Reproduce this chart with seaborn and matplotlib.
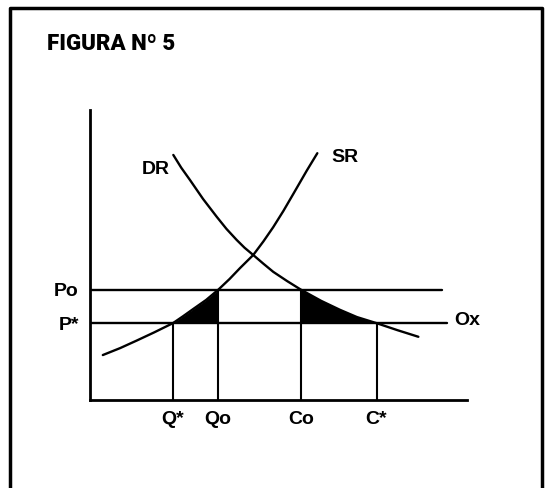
import matplotlib
matplotlib.use("Agg")
import matplotlib.pyplot as plt
import seaborn as sns
import pandas as pd
import numpy as np

# price levels and quantities (axes run 0..100)
p_o = 38.0
p_star = 26.5
q_star, q_o, c_o, c_star = 22.0, 34.0, 56.0, 76.0

# supply curve SR
sr_x = [3.4, 8.0, 12.4, 17.0, 22.0, 24.7, 27.4, 30.8, 34.0, 37.0, 39.8, 43.3,
        46.0, 48.6, 51.3, 53.9, 57.5, 60.3]
sr_y = [15.5, 17.9, 20.5, 23.3, 26.5, 28.9, 31.4, 34.5, 38.0, 41.7, 45.5, 50.0,
        54.7, 59.6, 65.2, 71.0, 79.1, 85.1]

# demand curve DR
dr_x = [22.1, 24.2, 26.5, 30.0, 33.6, 36.2, 38.9, 41.0, 43.3, 45.9, 48.6, 52.3,
        56.0, 61.3, 66.3, 70.8, 76.0, 81.5, 87.1]
dr_y = [84.5, 80.1, 75.9, 69.3, 63.2, 59.0, 55.2, 52.5, 50.0, 47.1, 44.2, 41.0,
        38.0, 34.2, 31.1, 28.6, 26.5, 24.1, 21.8]

x_ticks = [q_star, q_o, c_o, c_star]
x_labels = ["Q*", "Qo", "Co", "C*"]
y_ticks = [p_star, p_o]
y_labels = ["P*", "Po"]

sns.set_theme(style="white")
plt.rcParams["font.family"] = ["Liberation Sans", "DejaVu Sans"]
plt.rcParams["text.color"] = "black"
plt.rcParams["xtick.color"] = "black"
plt.rcParams["ytick.color"] = "black"

fig = plt.figure(figsize=(5.46, 4.88), dpi=100)
ax = fig.add_axes([90 / 546, 88 / 488, 377 / 546, 290 / 488])

sr = pd.DataFrame({"x": sr_x, "y": sr_y})
dr = pd.DataFrame({"x": dr_x, "y": dr_y})
sns.lineplot(data=sr, x="x", y="y", sort=False, color="black", lw=1.7, ax=ax)
sns.lineplot(data=dr, x="x", y="y", sort=False, color="black", lw=1.7, ax=ax)

# horizontal price lines
ax.plot([0, 93.4], [p_o, p_o], color="black", lw=1.7)
ax.plot([0, 94.7], [p_star, p_star], color="black", lw=1.7)

# vertical quantity lines
for xv, top in zip(x_ticks, [p_star, p_o, p_o, p_star]):
    ax.plot([xv, xv], [0, top], color="black", lw=1.5)

# shaded areas between the curves and P*
sx = np.array(sr_x)
sy = np.array(sr_y)
m = (sx >= q_star) & (sx <= q_o)
ax.fill_between(sx[m], p_star, sy[m], color="black", lw=0)
dx = np.array(dr_x)
dy = np.array(dr_y)
m = (dx >= c_o) & (dx <= c_star)
ax.fill_between(dx[m], p_star, dy[m], color="black", lw=0)

ax.set_xlim(0, 100)
ax.set_ylim(0, 100)
for s in ["top", "right"]:
    ax.spines[s].set_visible(False)
for s in ["left", "bottom"]:
    ax.spines[s].set_color("black")
    ax.spines[s].set_linewidth(2.0)

ax.set_xticks(x_ticks, x_labels)
ax.set_yticks(y_ticks, y_labels)
ax.tick_params(length=0, labelsize=14, pad=8)
for t in ax.get_xticklabels() + ax.get_yticklabels():
    t.set_fontweight("bold")
ax.set_xlabel("")
ax.set_ylabel("")

ax.text(17.5, 79.5, "DR", fontsize=14, fontweight="bold", ha="center", va="center")
ax.text(67.5, 83.5, "SR", fontsize=14, fontweight="bold", ha="center", va="center")
ax.text(96.5, p_star + 0.8, "Ox", fontsize=14, fontweight="bold", ha="left", va="center")

# title and frame
fig.text(47 / 546, 1 - 44 / 488, "FIGURA Nº 5", fontsize=16, fontweight=900,
         family=["Roboto", "DejaVu Sans"], ha="left", va="center")
frame_x = [10 / 546, 10 / 546, 542 / 546, 542 / 546]
frame_y = [0, 1 - 8 / 488, 1 - 8 / 488, 0]
fig.add_artist(plt.Line2D(frame_x, frame_y, color="black", lw=2.5))

fig.savefig("out.png", dpi=100, facecolor="white")
